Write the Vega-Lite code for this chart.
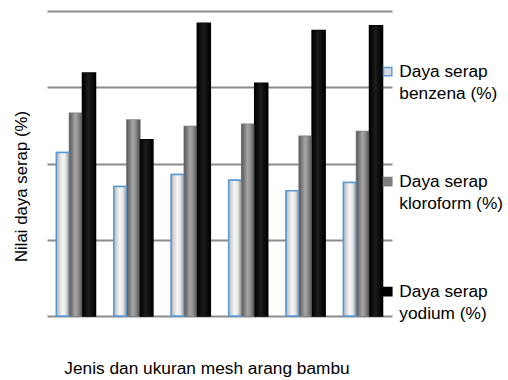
{
  "$schema": "https://vega.github.io/schema/vega-lite/v6.json",
  "width": 345,
  "height": 305,
  "autosize": {"type": "none"},
  "padding": {"left": 47, "top": 11, "right": 116, "bottom": 64},
  "background": "white",
  "config": {
    "view": {"stroke": null},
    "font": "Liberation Sans",
    "text": {"font": "Liberation Sans"}
  },
  "data": {
    "values": [
      {"g": "1", "s": "Daya serap benzena (%)", "v": 53.6},
      {"g": "1", "s": "Daya serap kloroform (%)", "v": 66.5},
      {"g": "1", "s": "Daya serap yodium (%)", "v": 79.7},
      {"g": "2", "s": "Daya serap benzena (%)", "v": 42.5},
      {"g": "2", "s": "Daya serap kloroform (%)", "v": 64.3},
      {"g": "2", "s": "Daya serap yodium (%)", "v": 57.8},
      {"g": "3", "s": "Daya serap benzena (%)", "v": 46.4},
      {"g": "3", "s": "Daya serap kloroform (%)", "v": 62.1},
      {"g": "3", "s": "Daya serap yodium (%)", "v": 96.0},
      {"g": "4", "s": "Daya serap benzena (%)", "v": 44.5},
      {"g": "4", "s": "Daya serap kloroform (%)", "v": 62.9},
      {"g": "4", "s": "Daya serap yodium (%)", "v": 76.3},
      {"g": "5", "s": "Daya serap benzena (%)", "v": 41.1},
      {"g": "5", "s": "Daya serap kloroform (%)", "v": 58.9},
      {"g": "5", "s": "Daya serap yodium (%)", "v": 93.6},
      {"g": "6", "s": "Daya serap benzena (%)", "v": 43.8},
      {"g": "6", "s": "Daya serap kloroform (%)", "v": 60.5},
      {"g": "6", "s": "Daya serap yodium (%)", "v": 95.2}
    ]
  },
  "encoding": {
    "x": {
      "field": "g", "type": "nominal",
      "scale": {"paddingInner": 0.32, "paddingOuter": 0.165},
      "axis": {
        "labels": false, "ticks": false, "domain": false,
        "title": "Jenis dan ukuran mesh arang bambu",
        "titleFont": "Liberation Sans", "titleFontSize": 17.3, "titleFontWeight": "normal",
        "titleColor": "#000000", "titleX": 159.5, "titleY": 57, "titleAlign": "center", "titleBaseline": "alphabetic"
      }
    },
    "xOffset": {
      "field": "s", "type": "nominal",
      "scale": {"domain": ["Daya serap benzena (%)", "Daya serap kloroform (%)", "Daya serap yodium (%)"], "paddingInner": 0, "paddingOuter": 0}
    },
    "y": {
      "field": "v", "type": "quantitative",
      "scale": {"domain": [0, 100], "nice": false},
      "axis": {
        "values": [0, 25, 50, 75, 100], "labels": false, "ticks": false, "domain": false,
        "grid": true, "gridColor": "#8c8c8c", "gridWidth": 2,
        "title": "Nilai daya serap (%)",
        "titleFont": "Liberation Sans", "titleFontSize": 16.8, "titleFontWeight": "normal",
        "titleColor": "#000000", "titleX": -26, "titleY": 175, "titleAngle": -90, "titleAlign": "center", "titleBaseline": "middle"
      }
    }
  },
  "layer": [
    {
      "mark": {"type": "bar", "strokeWidth": 1.5},
      "encoding": {
        "fill": {
          "field": "s", "type": "nominal",
          "scale": {"domain": ["Daya serap benzena (%)", "Daya serap kloroform (%)", "Daya serap yodium (%)"], "range": ["#d9d9d9", "#7f7f7f", "#000000"]},
          "legend": {
            "title": null, "orient": "none", "legendX": 332, "legendY": 52,
            "symbolType": "square", "symbolSize": 70, "symbolStrokeWidth": 1.5,
            "labelFont": "Liberation Sans", "labelFontSize": 17.3, "labelColor": "#000000",
            "labelOffset": 3, "labelLimit": 200, "rowPadding": 70,
            "labelExpr": "[slice(datum.label, 0, 10), slice(datum.label, 11)]",
            "encode": {"labels": {"update": {"lineHeight": {"value": 22}}}}
          }
        },
        "stroke": {
          "field": "s", "type": "nominal",
          "scale": {"domain": ["Daya serap benzena (%)", "Daya serap kloroform (%)", "Daya serap yodium (%)"], "range": ["#5b9bd5", "#7f7f7f", "#000000"]},
          "legend": {
            "title": null, "orient": "none", "legendX": 332, "legendY": 52,
            "symbolType": "square", "symbolSize": 70, "symbolStrokeWidth": 1.5,
            "labelFont": "Liberation Sans", "labelFontSize": 17.3, "labelColor": "#000000",
            "labelOffset": 3, "labelLimit": 200, "rowPadding": 70,
            "labelExpr": "[slice(datum.label, 0, 10), slice(datum.label, 11)]",
            "encode": {"labels": {"update": {"lineHeight": {"value": 22}}}}
          }
        }
      }
    },
    {
      "transform": [{"filter": "datum.s === 'Daya serap benzena (%)'"}],
      "mark": {
        "type": "bar", "stroke": "#5b9bd5", "strokeWidth": 1.5,
        "fill": {"gradient": "linear", "x1": 0, "y1": 0, "x2": 1, "y2": 0,
          "stops": [{"offset": 0, "color": "#b8b8b8"}, {"offset": 0.45, "color": "#f7f7f7"}, {"offset": 0.7, "color": "#e6e6e6"}, {"offset": 1, "color": "#8f8f8f"}]}
      }
    },
    {
      "transform": [{"filter": "datum.s === 'Daya serap kloroform (%)'"}],
      "mark": {
        "type": "bar",
        "fill": {"gradient": "linear", "x1": 0, "y1": 0, "x2": 1, "y2": 0,
          "stops": [{"offset": 0, "color": "#5a5a5a"}, {"offset": 0.45, "color": "#a6a6a6"}, {"offset": 0.7, "color": "#8a8a8a"}, {"offset": 1, "color": "#4a4a4a"}]}
      }
    },
    {
      "transform": [{"filter": "datum.s === 'Daya serap yodium (%)'"}],
      "mark": {
        "type": "bar",
        "fill": {"gradient": "linear", "x1": 0, "y1": 0, "x2": 1, "y2": 0,
          "stops": [{"offset": 0, "color": "#000000"}, {"offset": 0.45, "color": "#1c1c1c"}, {"offset": 1, "color": "#000000"}]}
      }
    }
  ]
}
